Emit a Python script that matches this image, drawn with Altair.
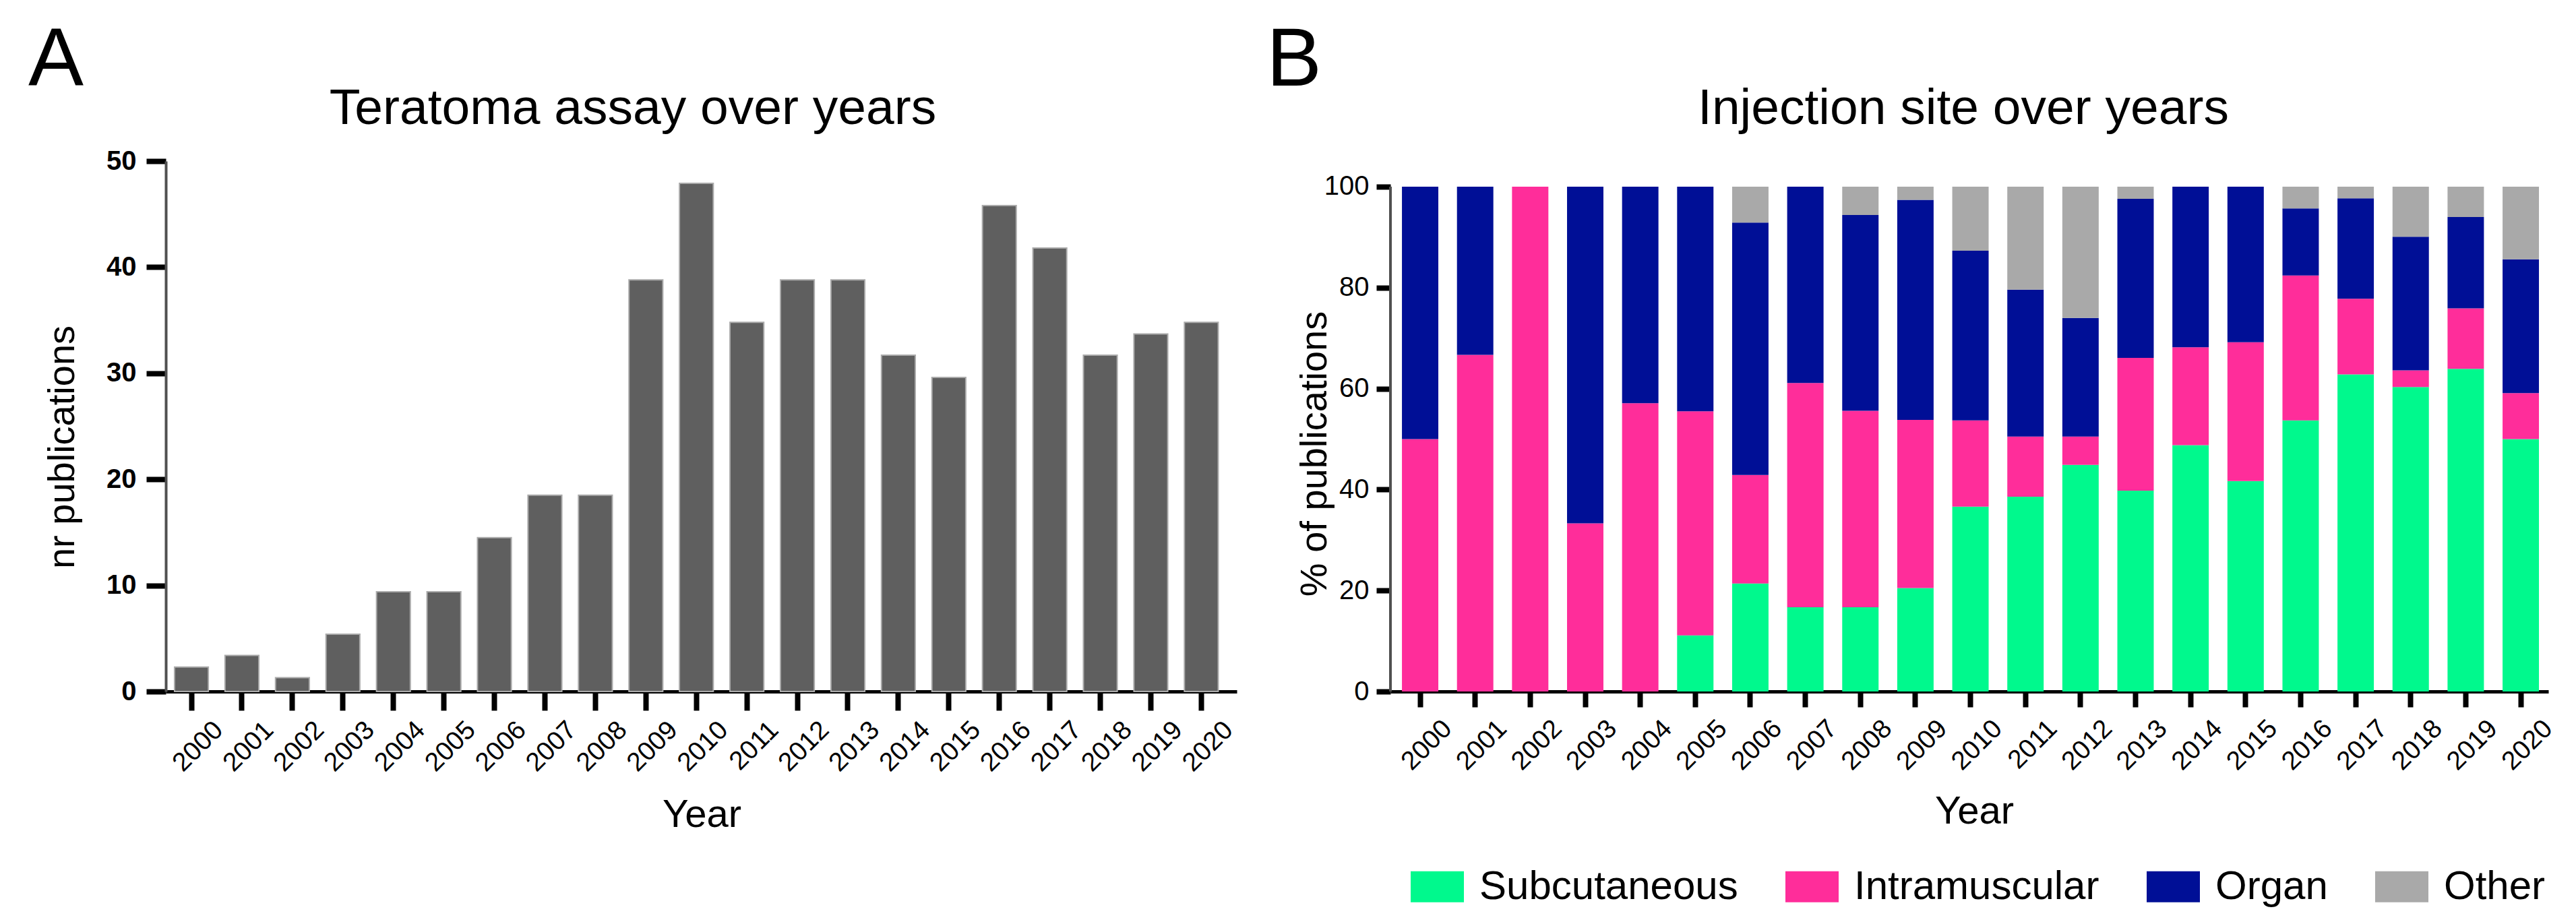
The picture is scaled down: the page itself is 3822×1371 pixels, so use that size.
import altair as alt
import pandas as pd

FONT = "Liberation Sans"

YEARS = ["2000", "2001", "2002", "2003", "2004", "2005", "2006", "2007", "2008", "2009", "2010",
         "2011", "2012", "2013", "2014", "2015", "2016", "2017", "2018", "2019", "2020"]

PUBLICATIONS = [2.3, 3.4, 1.3, 5.4, 9.4, 9.4, 14.5, 18.5, 18.5, 38.8, 47.9,
                34.8, 38.8, 38.8, 31.7, 29.6, 45.8, 41.8, 31.7, 33.7, 34.8]

SITES = ["Subcutaneous", "Intramuscular", "Organ", "Other"]
SITE_COLORS = ["#00F98D", "#FF2D9A", "#000F96", "#A9A9A9"]

SUBCUTANEOUS = [0, 0, 0, 0, 0, 11.1, 21.4, 16.7, 16.7, 20.5, 36.6,
                38.6, 44.9, 39.8, 48.8, 41.7, 53.7, 62.8, 60.3, 63.9, 50.0]
INTRAMUSCULAR = [50.0, 66.7, 100, 33.3, 57.1, 44.4, 21.5, 44.4, 38.9, 33.3, 17.1,
                 11.9, 5.6, 26.3, 19.4, 27.5, 28.7, 15.0, 3.3, 12.0, 9.1]
ORGAN = [50.0, 33.3, 0, 66.7, 42.9, 44.5, 50.0, 38.9, 38.8, 43.6, 33.6,
         29.1, 23.5, 31.5, 31.8, 30.8, 13.3, 19.9, 26.5, 18.1, 26.5]
OTHER = [0, 0, 0, 0, 0, 0, 7.1, 0, 5.6, 2.6, 12.7,
         20.4, 26.0, 2.4, 0, 0, 4.3, 2.3, 9.9, 6.0, 14.4]

PANEL_A = "A"
PANEL_B = "B"
TITLE_A = "Teratoma assay over years"
TITLE_B = "Injection site over years"
Y_TITLE_A = "nr publications"
Y_TITLE_B = "% of publications"
X_TITLE = "Year"

TICKS_A = [0, 10, 20, 30, 40, 50]
TICKS_B = [0, 20, 40, 60, 80, 100]

# ---------------- data frames ----------------
df_a = pd.DataFrame({"year": YEARS, "pubs": PUBLICATIONS})
rows = []
for i, yr in enumerate(YEARS):
    for k, (site, vals) in enumerate(zip(SITES, [SUBCUTANEOUS, INTRAMUSCULAR, ORGAN, OTHER])):
        rows.append({"year": yr, "site": site, "pct": vals[i], "ord": k})
df_b = pd.DataFrame(rows)

WA, HA = 1589, 787
WB, HB = 1718, 787
Y_TOP_B = 105.07

x_axis_common = dict(
    labelAngle=-45, labelAlign="right", labelBaseline="top", labelFontSize=39,
    labelFont=FONT, labelColor="black", tickColor="black", tickWidth=8,
    domainColor="black", domainWidth=5, titleFont=FONT, titleFontSize=58,
    titleFontWeight="normal", titleColor="black", titleAlign="center",
    titleBaseline="alphabetic", grid=False,
)
y_axis_common = dict(
    tickColor="black", tickWidth=8, labelFont=FONT, labelFontSize=40, labelColor="black",
    titleFont=FONT, titleFontSize=56, titleFontWeight="normal", titleColor="black",
    titleAngle=270, titleAlign="center", titleBaseline="alphabetic", grid=False,
)

# ---------------- panel A ----------------
bars_a = alt.Chart(df_a).mark_bar(color="#5f5f5f", stroke="#ababab", strokeWidth=2).encode(
    x=alt.X("year:N", sort=YEARS,
            scale=alt.Scale(paddingInner=0.33, paddingOuter=0.27, align=0.32),
            axis=alt.Axis(title=X_TITLE, tickSize=28, labelOffset=27, labelPadding=9,
                          titleX=795, titleY=200, **x_axis_common)),
    y=alt.Y("pubs:Q", scale=alt.Scale(domain=[0, 50], nice=False),
            axis=alt.Axis(title=Y_TITLE_A, values=TICKS_A, tickSize=29, domainColor="#505050",
                          domainWidth=4, labelFontWeight="bold", labelPadding=15,
                          titleX=-137, titleY=424, **y_axis_common)),
)

letter_a = alt.Chart(pd.DataFrame({"t": [PANEL_A]})).mark_text(
    font=FONT, fontSize=123, align="left", baseline="alphabetic", color="black"
).encode(text="t:N", x=alt.value(-204), y=alt.value(-112))

title_a = alt.Chart(pd.DataFrame({"t": [TITLE_A]})).mark_text(
    font=FONT, fontSize=75, align="center", baseline="alphabetic", color="black"
).encode(text="t:N", x=alt.value(693), y=alt.value(-55))

panel_a = alt.layer(bars_a, letter_a, title_a).properties(width=WA, height=HA)

# ---------------- panel B ----------------
bars_b = alt.Chart(df_b).mark_bar().encode(
    x=alt.X("year:N", sort=YEARS,
            scale=alt.Scale(paddingInner=0.339, paddingOuter=0.19, align=0.55),
            axis=alt.Axis(title=X_TITLE, tickSize=23, labelOffset=27, labelPadding=12,
                          titleX=866, titleY=195, **x_axis_common)),
    y=alt.Y("pct:Q", stack="zero", scale=alt.Scale(domain=[0, Y_TOP_B], nice=False),
            axis=alt.Axis(title=Y_TITLE_B, values=TICKS_B, tickSize=21, domain=False,
                          labelPadding=11, titleX=-96, titleY=434, **y_axis_common)),
    color=alt.Color("site:N", scale=alt.Scale(domain=SITES, range=SITE_COLORS),
                    legend=alt.Legend(title=None, orient="none", legendX=1847, legendY=1037,
                                      direction="horizontal", columns=4,
                                      symbolType="M-1,-0.582H1V0.582H-1Z", symbolSize=6241,
                                      symbolStrokeWidth=0, symbolOpacity=1,
                                      labelFont=FONT, labelFontSize=60, labelColor="black",
                                      labelOffset=23, labelLimit=1000, columnPadding=70,
                                      gridAlign="each", padding=0)),
    order=alt.Order("ord:Q"),
)

axis_line_b = alt.Chart(pd.DataFrame({"lo": [TICKS_B[0]], "hi": [TICKS_B[-1]]})).mark_rule(
    color="#505050", strokeWidth=4
).encode(x=alt.value(0), y="lo:Q", y2="hi:Q")

letter_b = alt.Chart(pd.DataFrame({"t": [PANEL_B]})).mark_text(
    font=FONT, fontSize=123, align="left", baseline="alphabetic", color="black"
).encode(text="t:N", x=alt.value(-184), y=alt.value(-112))

title_b = alt.Chart(pd.DataFrame({"t": [TITLE_B]})).mark_text(
    font=FONT, fontSize=75, align="center", baseline="alphabetic", color="black"
).encode(text="t:N", x=alt.value(850), y=alt.value(-55))

panel_b = alt.layer(bars_b, axis_line_b, letter_b, title_b).properties(width=WB, height=HB)

chart = alt.hconcat(panel_a, panel_b, spacing=42).configure_view(stroke=None).properties(
    background="white",
    padding={"left": 34, "top": 21, "right": 5, "bottom": 5},
)

chart.save("out.html", embed_options={"renderer": "svg", "actions": False})
